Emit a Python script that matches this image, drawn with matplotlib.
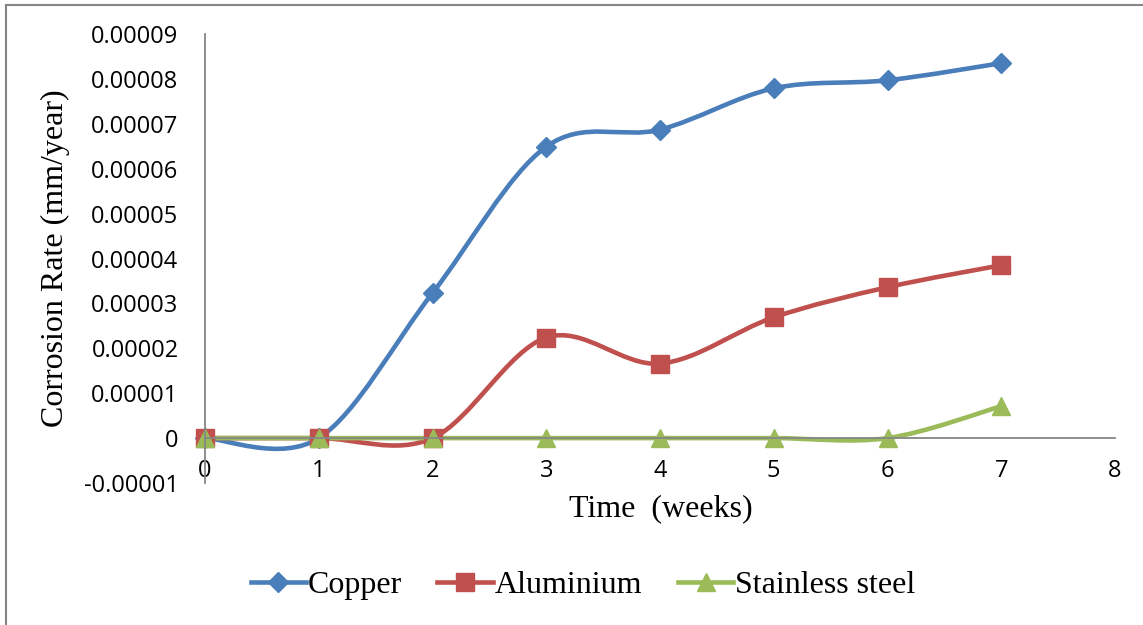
import numpy as np
import matplotlib
matplotlib.use('Agg')
import matplotlib.pyplot as plt
from matplotlib.path import Path
from matplotlib.patches import PathPatch
from matplotlib.lines import Line2D

# data
weeks = [0, 1, 2, 3, 4, 5, 6, 7]
copper = [0, 0, 3.23e-5, 6.49e-5, 6.87e-5, 7.79e-5, 7.97e-5, 8.35e-5]
aluminium = [0, 0, 0, 2.24e-5, 1.66e-5, 2.69e-5, 3.36e-5, 3.85e-5]
stainless = [0, 0, 0, 0, 0, 0, 0, 7.1e-6]

series_names = ['Copper', 'Aluminium', 'Stainless steel']
series_colors = ['#4A7EBB', '#C0504D', '#9BBB59']
series_markers = ['D', 's', '^']
series_msize = [10.5, 13, 13.5]

xticks = [0, 1, 2, 3, 4, 5, 6, 7, 8]
yticks = [-1e-5, 0, 1e-5, 2e-5, 3e-5, 4e-5, 5e-5, 6e-5, 7e-5, 8e-5, 9e-5]
ytick_labels = ['-0.00001', '0', '0.00001', '0.00002', '0.00003', '0.00004',
                '0.00005', '0.00006', '0.00007', '0.00008', '0.00009']


def smooth_path(x, y):
    # excel style smoothed line: cubic bezier, catmull-rom control points
    pts = np.column_stack([x, y]).astype(float)
    ext = np.vstack([pts[0], pts, pts[-1]])
    verts = [pts[0]]
    codes = [Path.MOVETO]
    for i in range(len(pts) - 1):
        p0, p1, p2, p3 = ext[i], ext[i + 1], ext[i + 2], ext[i + 3]
        verts += [p1 + (p2 - p0) / 6, p2 - (p3 - p1) / 6, p2]
        codes += [Path.CURVE4] * 3
    return Path(verts, codes)


serif = 'Liberation Serif'
plt.rcParams['font.family'] = 'Open Sans'

fig = plt.figure(figsize=(11.43, 6.25), dpi=100)
ax = fig.add_axes([205 / 1143, 1 - 483 / 625, 910 / 1143, 449 / 625])

for vals, name, col, mk, ms in zip([copper, aluminium, stainless], series_names,
                                   series_colors, series_markers, series_msize):
    patch = PathPatch(smooth_path(weeks, vals), facecolor='none', edgecolor=col,
                      lw=3.3, capstyle='round', joinstyle='round')
    ax.add_patch(patch)
    ax.plot(weeks, vals, ls='none', marker=mk, ms=ms, color=col, clip_on=False)

ax.set_xlim(0, 8)
ax.set_ylim(-1e-5, 9e-5)
ax.set_xticks(xticks)
ax.set_yticks(yticks)
ax.set_yticklabels(ytick_labels)

for s in ['top', 'right']:
    ax.spines[s].set_visible(False)
ax.spines['bottom'].set_position(('data', 0))
for s in ['left', 'bottom']:
    ax.spines[s].set_color('#868686')
    ax.spines[s].set_linewidth(1.3)
ax.tick_params(axis='both', length=0, labelsize=17)
ax.tick_params(axis='x', pad=15)
ax.tick_params(axis='y', pad=19)

ax.set_xlabel('Time  (weeks)', family=serif, fontsize=23)
ax.set_ylabel('Corrosion Rate (mm/year)', family=serif, fontsize=23)
ax.xaxis.set_label_coords(0.501, -0.025)
ax.yaxis.set_label_coords(-0.148, 0.5)

handles = [Line2D([], [], color=c, lw=3.3, marker=m, ms=ms)
           for c, m, ms in zip(series_colors, series_markers, series_msize)]
fig.legend(handles, series_names, loc='center', bbox_to_anchor=(0.51, 0.064),
           ncol=3, frameon=False, prop={'family': serif, 'size': 23},
           handlelength=1.75, handletextpad=0.05, columnspacing=1.1)

# chart area border (only top and left visible)
fig.add_artist(Line2D([5.5 / 1143, 1], [1 - 4.5 / 625, 1 - 4.5 / 625],
                      transform=fig.transFigure, color='#868686', lw=1.5))
fig.add_artist(Line2D([5.5 / 1143, 5.5 / 1143], [0, 1 - 4.5 / 625],
                      transform=fig.transFigure, color='#868686', lw=1.5))

fig.savefig('out.png', dpi=100)
